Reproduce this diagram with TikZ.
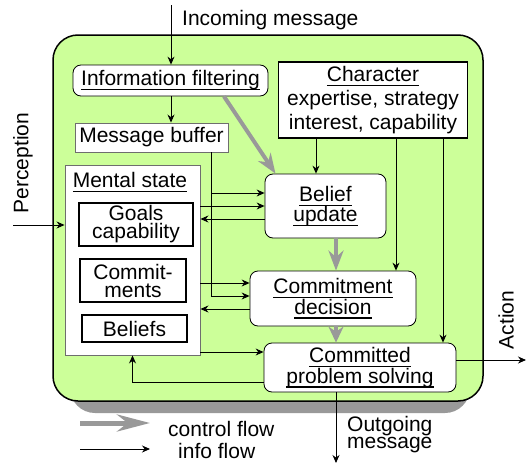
\documentclass[tikz,border=0pt]{standalone}
\usepackage{fontspec}
\setmainfont{Liberation Sans}
\usetikzlibrary{arrows.meta}

% underline a piece of text with a rule just below its descenders
\newcommand{\uln}[1]{\leavevmode\setbox0\hbox{#1}\rlap{\rule[-4.6pt]{\wd0}{1.4pt}}\box0}

\definecolor{panelgreen}{HTML}{CCFF99}
\definecolor{shadowgray}{HTML}{999999}
\definecolor{ctrlgray}{HTML}{999999}
\definecolor{edgegray}{HTML}{6E6E6E}

\begin{document}
\begin{tikzpicture}[x=1pt,y=-1pt,
  every node/.style={font=\fontsize{21}{19}\selectfont, inner sep=0pt},
  roundbox/.style={draw=black, line width=0.8pt, fill=white, rounded corners=8pt, align=center},
  softbox/.style={draw=edgegray, line width=0.9pt, fill=white},
  hardbox/.style={draw=black, line width=1.5pt, fill=white, align=center},
  info/.style={draw=black, line width=0.9pt, -{Stealth[length=8pt,width=7pt]}},
  ctrl/.style={draw=ctrlgray, line width=4pt, -{Stealth[length=20pt,width=15pt,fill=ctrlgray]}},
  ctrlshort/.style={draw=ctrlgray, line width=4pt, -{Stealth[length=16pt,width=15pt,fill=ctrlgray]}},
  ctrllegend/.style={draw=ctrlgray, line width=5pt, -{Stealth[length=33pt,width=17pt,fill=ctrlgray]}},
]
\useasboundingbox (0,0) rectangle (528,466);

% agent panel with its drop shadow
\fill[shadowgray, rounded corners=25pt] (70,60) rectangle (470,413);
\draw[fill=panelgreen, line width=1.5pt, rounded corners=25pt] (53,35) rectangle (483,401);

% processing stages
\node[roundbox, minimum width=195pt, minimum height=31pt] (filt) at (170.5,80.5) {\uln{Information filtering}};
\node[softbox, minimum width=153pt, minimum height=29pt] (buf) at (151.5,137.5) {Message buffer};
\node[hardbox, minimum width=189pt, minimum height=76pt, font=\fontsize{21}{24}\selectfont] (char) at (373,100)
  {\uln{Character}\\expertise, strategy\\interest, capability};
\node[roundbox, minimum width=121pt, minimum height=64pt, font=\fontsize{21}{20}\selectfont] (belief) at (325.5,206)
  {\uln{Belief}\\\uln{update}};
\node[roundbox, minimum width=166pt, minimum height=55pt] (commit) at (333,298.5)
  {\uln{Commitment}\\\uln{decision}};
\node[roundbox, minimum width=192pt, minimum height=49pt, font=\fontsize{21}{18}\selectfont] (solve) at (360,367.5)
  {\uln{Committed}\\\uln{problem solving}};

% mental state store
\node[softbox, minimum width=135pt, minimum height=190pt] (mental) at (132.5,260) {};
\node (mtitle) at (130,182) {\uln{Mental state}};
\node[hardbox, minimum width=114pt, minimum height=43pt, font=\fontsize{21}{18}\selectfont] (goals) at (136,224.5) {Goals\\capability};
\node[hardbox, minimum width=106pt, minimum height=43pt, font=\fontsize{21}{18}\selectfont] (cmts) at (133,280.5) {Commit-\\ments};
\node[hardbox, minimum width=105pt, minimum height=27pt] (bels) at (134.5,328.5) {Beliefs};

% control flow
\coordinate (ctrlX) at (336,0);
\draw[ctrl] ([xshift=53.5pt]filt.south) -- ([xshift=-50pt]belief.north);
\draw[ctrl] (belief.south -| ctrlX) -- (commit.north -| ctrlX);
\draw[ctrlshort] (commit.south -| ctrlX) -- (solve.north -| ctrlX);

% incoming messages
\coordinate (inTop) at (171,5);
\draw[info] (inTop) -- (inTop |- filt.north);
\draw[info] (filt.south -| inTop) -- (buf.north -| inTop);

% character feeds every stage
\coordinate (chA) at (316,0);
\coordinate (chB) at (396,0);
\coordinate (chC) at (443,0);
\draw[info] (char.south -| chA) -- (belief.north -| chA);
\draw[info] (char.south -| chB) -- (commit.north -| chB);
\draw[info] (char.south -| chC) -- (solve.north -| chC);

% message buffer feeds belief update and commitment decision
\coordinate (bufX) at (211,0);
\coordinate (bIn1) at ([yshift=13pt]belief.west);
\coordinate (bOut) at ([yshift=-13pt]belief.west);
\coordinate (cIn1) at ([yshift=15.5pt]commit.west);
\coordinate (cIn2) at ([yshift=2.5pt]commit.west);
\coordinate (cOut) at ([yshift=-10.5pt]commit.west);
\coordinate (sIn) at ([yshift=15.5pt]solve.west);
\coordinate (sOut) at ([yshift=-14.5pt]solve.west);
\draw[info] (buf.south -| bufX) |- (bIn1);
\draw[info] (buf.south -| bufX) |- (cIn2);

% exchanges with the mental state
\draw[info] (mental.east |- belief.west) -- (belief.west);
\draw[info] (bOut) -- (mental.east |- bOut);
\draw[info] (mental.east |- cIn1) -- (cIn1);
\draw[info] (cOut) -- (mental.east |- cOut);
\draw[info] (mental.east |- sIn) -- (sIn);
\draw[info] (sOut) -| (mental.south);

% perception, action and outgoing messages
\coordinate (percStart) at (13,225);
\draw[info] (percStart) -- (mental.west |- percStart);
\coordinate (sAct) at ([yshift=7.5pt]solve.east);
\coordinate (actEnd) at (526,360);
\draw[info] (sAct) -- (actEnd |- sAct);
\coordinate (outEnd) at (336,463);
\draw[info] (solve.south -| ctrlX) -- (outEnd);

\node[anchor=base west] (inLbl) at (182,25) {Incoming message};
\node[rotate=90] (percLbl) at (23,163) {Perception};
\node[rotate=90] (actLbl) at (506,320) {Action};
\node[anchor=north west, align=left, font=\fontsize{21}{15}\selectfont] (outLbl) at (347,416) {Outgoing\\message};

% legend
\coordinate (lgCa) at (80,423);
\coordinate (lgCb) at (150,423);
\coordinate (lgIa) at (80,449);
\coordinate (lgIb) at (150,449);
\draw[ctrllegend] (lgCa) -- (lgCb);
\draw[info] (lgIa) -- (lgIb);
\node[anchor=base west] (lgCtrl) at (168,436) {control flow};
\node[anchor=base west] (lgInfo) at (178,458) {info flow};
\end{tikzpicture}
\end{document}
